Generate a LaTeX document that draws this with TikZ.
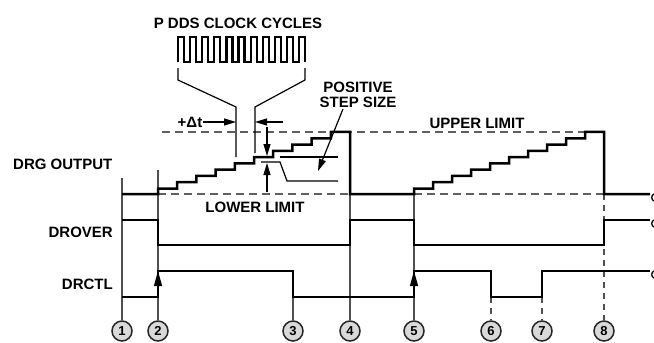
\documentclass[tikz,border=0pt]{standalone}
\usepackage{fontspec}
\setmainfont{Liberation Sans}
\usepackage{tikz}
\usetikzlibrary{arrows.meta,positioning,calc}
\definecolor{markgray}{RGB}{80,80,80}
\definecolor{limitgray}{RGB}{95,95,95}
\definecolor{circfill}{RGB}{217,217,217}

\tikzset{
  sig/.style={line width=2.5pt},
  clockwave/.style={line width=2.2pt},
  marker/.style={line width=1.3pt,markgray},
  dashmarker/.style={marker,dash pattern=on 6pt off 5pt},
  limit/.style={line width=1.5pt,limitgray,dash pattern=on 8pt off 5pt},
  bracket/.style={line width=1.2pt},
  arr/.style={line width=1.2pt,-{Triangle[length=12pt,width=7pt]}},
  edgearr/.style={line width=1.2pt,-{Triangle[length=15pt,width=8pt]}},
  lbl/.style={font=\fontsize{15}{15}\selectfont\bfseries,inner sep=0pt},
  num/.style={circle,draw=black!85,line width=1.5pt,fill=circfill,minimum size=20pt,
    inner sep=0pt,font=\fontsize{13}{13}\selectfont\bfseries},
}

\begin{document}
\begin{tikzpicture}[x=1pt,y=-1pt]
\useasboundingbox (0,0) rectangle (654,343);
% labels
\node[lbl] (clk) at (238,23) {P DDS CLOCK CYCLES};
\node[lbl,anchor=west] (drg) at (13,164) {DRG OUTPUT};
\node[lbl,anchor=east] (drover) at (113,232) {DROVER};
\node[lbl,anchor=east] (drctl) at (113,284) {DRCTL};
\node[lbl] (lower) at (255,207) {LOWER LIMIT};
\node[lbl] (upper) at (477,123) {UPPER LIMIT};
\node[lbl] (dt) at (190,122) {+Δt};
\node[lbl,align=center] (pss) at (358,95) {POSITIVE\\STEP SIZE};
% numbered events
\foreach \n/\x in {1/122,2/158,3/293,4/350,5/414,6/491,7/542,8/604}
  \node[num] (c\n) at (\x,331) {\n};
\foreach \n/\x/\y in {1/122/178,2/158/170,3/293/297,4/350/194,5/414/188}
  {\coordinate (t\n) at (\x,\y); \draw[marker] (t\n) -- (c\n);}
\foreach \n/\x/\y in {6/491/297,7/542/297,8/604/194}
  {\coordinate (t\n) at (\x,\y); \draw[dashmarker] (t\n) -- (c\n);}
% limits
\draw[limit] (162,132) -- (604,132);
\draw[limit] (158,194) -- (350,194);
\draw[limit] (414,194) -- (604,194);
% DRG output
\draw[sig] (122,194) -- (158,194) -- (158,188.5)
  \foreach \k in {1,...,9} {-- ++(19.2,0) -- ++(0,-6.28)} -- ++(19.2,0) -- (350,194)
  -- (414,194) -- (414,188.5)
  \foreach \k in {1,...,9} {-- ++(19,0) -- ++(0,-6.28)} -- ++(19,0) -- (604,194) -- (650,194);
% DROVER
\draw[sig] (122,220) -- (158,220) -- (158,245) -- (350,245) -- (350,220) -- (414,220)
  -- (414,245) -- (604,245) -- (604,220) -- (650,220);
% DRCTL
\draw[sig] (122,297) -- (158,297) -- (158,271) -- (293,271) -- (293,297) -- (414,297)
  -- (414,271) -- (491,271) -- (491,297) -- (542,297) -- (542,271) -- (650,271);
\draw[edgearr] (158,297) -- (158,271);
\draw[edgearr] (414,297) -- (414,271);
\foreach \y in {194,220,271}
  \draw[line width=1.3pt] (654,\y) .. controls (651,\y+1) and (651,\y+6) .. (654,\y+7);
% clock
\draw[clockwave] (178,62)
  \foreach \k in {1,...,10} {-- ++(0,-25) -- ++(6.05,0) -- ++(0,25) -- ++(6.05,0)}
  -- ++(0,-25) -- ++(6.05,0) -- ++(0,25);
\draw[bracket] (178,68) -- (178,80) -- (236,107) -- (236,157);
\draw[bracket] (305,68) -- (305,80) -- (255,107) -- (255,153);
% delta t
\coordinate (dtl) at (236,122);
\coordinate (dtr) at (255,122);
\coordinate (dtr0) at (283,122);
\draw[arr] ([xshift=1pt]dt.east) -- (dtl);
\draw[arr] (dtr0) -- (dtr);
% step size
\draw[bracket] (280,157) -- (338,157);
\draw[bracket] (261,162) -- (280,162) -- (287,181) -- (338,181);
\draw[arr] (267,127) -- (267,156);
\draw[arr] (267,192) -- (267,163);
\coordinate (psstip) at (318,171);
\draw[arr] (343,109) -- (psstip);
\end{tikzpicture}
\end{document}
